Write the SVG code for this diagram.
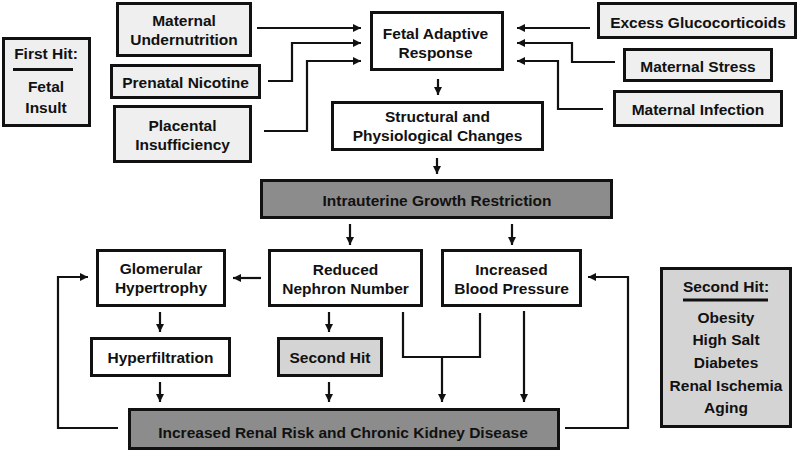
<svg xmlns="http://www.w3.org/2000/svg" width="800" height="453" viewBox="0 0 800 453">
<defs>
<style>
.box{stroke:#111;stroke-width:3}
.w{fill:#fff}
.l{fill:#efefef}
.m{fill:#d4d4d4}
.d{fill:#8c8c8c}
text{font-family:"Liberation Sans",Arial,sans-serif;font-weight:bold;font-size:15.5px;fill:#111;text-anchor:middle}
.c path{fill:none;stroke:#111;stroke-width:2.2}
.c path.a{marker-end:url(#ah)}
</style>
<marker id="ah" markerUnits="userSpaceOnUse" markerWidth="9" markerHeight="8" refX="8" refY="4" orient="auto">
<path d="M0,0 L8,4 L0,8 z" fill="#111"/>
</marker>
</defs>
<rect width="800" height="453" fill="#fff"/>
<g id="first-hit">
<rect class="box l" x="3.5" y="38.5" width="86" height="87"/>
<text x="46" y="59">First Hit:</text>
<line x1="13" y1="69.5" x2="73" y2="69.5" stroke="#111" stroke-width="3"/>
<text x="46" y="92">Fetal</text>
<text x="46" y="113">Insult</text>
</g>
<g id="maternal-undernutrition">
<rect class="box l" x="117.5" y="3.5" width="133" height="52"/>
<text x="184" y="26">Maternal</text>
<text x="184" y="45">Undernutrition</text>
</g>
<g id="prenatal-nicotine">
<rect class="box l" x="111.5" y="65.5" width="148" height="32"/>
<text x="185.5" y="87.5">Prenatal Nicotine</text>
</g>
<g id="placental-insufficiency">
<rect class="box l" x="114.5" y="106.5" width="136" height="55"/>
<text x="182.5" y="131">Placental</text>
<text x="182.5" y="149.5">Insufficiency</text>
</g>
<g id="fetal-adaptive-response">
<rect class="box w" x="371.5" y="12.5" width="131" height="57"/>
<text x="435.5" y="38.5">Fetal Adaptive</text>
<text x="435.5" y="57.5">Response</text>
</g>
<g id="excess-glucocorticoids">
<rect class="box l" x="598.5" y="3.5" width="197" height="34"/>
<text x="698" y="27.5">Excess Glucocorticoids</text>
</g>
<g id="maternal-stress">
<rect class="box l" x="624.5" y="49.5" width="147" height="31"/>
<text x="698" y="71.5">Maternal Stress</text>
</g>
<g id="maternal-infection">
<rect class="box l" x="614.5" y="91.5" width="167" height="34"/>
<text x="698" y="115">Maternal Infection</text>
</g>
<g id="structural-changes">
<rect class="box w" x="332.5" y="102.5" width="210" height="47"/>
<text x="437.5" y="121.5">Structural and</text>
<text x="437.5" y="141">Physiological Changes</text>
</g>
<g id="iugr">
<rect class="box d" x="261.5" y="180.5" width="350" height="37"/>
<text x="437" y="205.5">Intrauterine Growth Restriction</text>
</g>
<g id="glomerular-hypertrophy">
<rect class="box w" x="97.5" y="250.5" width="127" height="55"/>
<text x="161" y="274">Glomerular</text>
<text x="161" y="293">Hypertrophy</text>
</g>
<g id="reduced-nephron-number">
<rect class="box w" x="269.5" y="250.5" width="152" height="55"/>
<text x="345.5" y="275">Reduced</text>
<text x="345.5" y="294">Nephron Number</text>
</g>
<g id="increased-blood-pressure">
<rect class="box w" x="442.5" y="250.5" width="138" height="55"/>
<text x="511.5" y="275">Increased</text>
<text x="511.5" y="294">Blood Pressure</text>
</g>
<g id="hyperfiltration">
<rect class="box w" x="91.5" y="338.5" width="138" height="37"/>
<text x="160.5" y="362.5">Hyperfiltration</text>
</g>
<g id="second-hit-mid">
<rect class="box m" x="278.5" y="338.5" width="103" height="37"/>
<text x="330" y="362.5">Second Hit</text>
</g>
<g id="second-hit-list">
<rect class="box m" x="661.5" y="268.5" width="129" height="158"/>
<text x="726" y="292">Second Hit:</text>
<line x1="683" y1="300" x2="768" y2="300" stroke="#111" stroke-width="3"/>
<text x="726" y="323">Obesity</text>
<text x="726" y="345">High Salt</text>
<text x="726" y="367.5">Diabetes</text>
<text x="726" y="390.5">Renal Ischemia</text>
<text x="726" y="413">Aging</text>
</g>
<g id="ckd">
<rect class="box d" x="129.5" y="409.5" width="429" height="39"/>
<text x="343" y="437.5">Increased Renal Risk and Chronic Kidney Disease</text>
</g>
<g class="c" id="connectors">
<path class="a" d="M257,28 H361"/>
<path class="a" d="M268,81 H292 V43 H361"/>
<path class="a" d="M264,131 H307 V61 H361"/>
<path class="a" d="M590,28 H517"/>
<path class="a" d="M615,62 H572 V43 H517"/>
<path class="a" d="M603,109 H558 V61 H517"/>
<path class="a" d="M438,79 V95"/>
<path class="a" d="M437,158 V174"/>
<path class="a" d="M350,224 V245"/>
<path class="a" d="M512,224 V245"/>
<path class="a" d="M261,278 H233"/>
<path class="a" d="M118,428 H58 V277 H88"/>
<path class="a" d="M565,428 H628 V277 H588"/>
<path class="a" d="M160,312 V332"/>
<path class="a" d="M329,312 V332"/>
<path class="a" d="M160,382 V402"/>
<path class="a" d="M329,382 V402"/>
<path d="M403,312 V357 H480 V313"/>
<path class="a" d="M442,357 V402"/>
<path class="a" d="M524,311 V402"/>
</g>
</svg>
